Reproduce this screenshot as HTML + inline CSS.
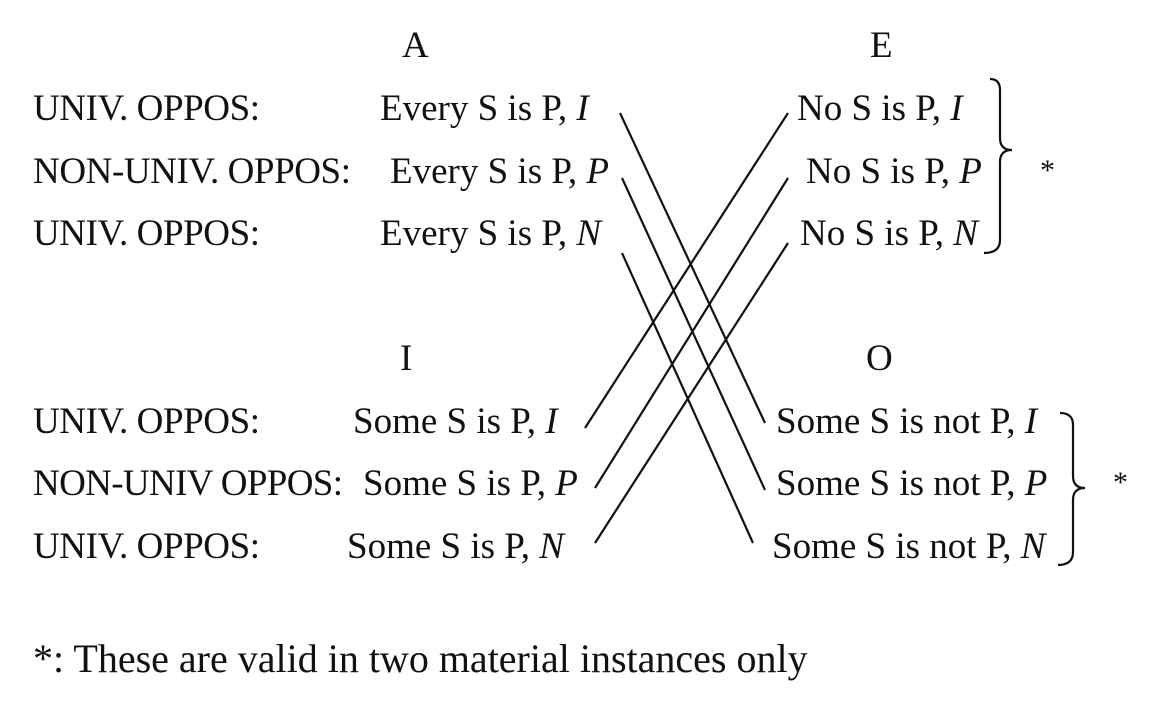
<!DOCTYPE html>
<html><head><style>
html,body{margin:0;padding:0;background:#fff;}
svg{display:block;}
text{font-family:"Liberation Serif",serif;font-size:37px;fill:#111;}
tspan.i{font-style:italic;}
</style></head><body>
<svg width="1156" height="719" viewBox="0 0 1156 719">
<text x="402" y="57">A</text>
<text x="870" y="57">E</text>
<text x="33" y="120" textLength="227">UNIV. OPPOS:</text>
<text x="33" y="183" textLength="318">NON-UNIV. OPPOS:</text>
<text x="33" y="245" textLength="227">UNIV. OPPOS:</text>
<text x="380" y="120">Every S is P, <tspan class="i">I</tspan></text>
<text x="390" y="183">Every S is P, <tspan class="i">P</tspan></text>
<text x="380" y="245">Every S is P, <tspan class="i">N</tspan></text>
<text x="797" y="120">No S is P, <tspan class="i">I</tspan></text>
<text x="806" y="183">No S is P, <tspan class="i">P</tspan></text>
<text x="800" y="245">No S is P, <tspan class="i">N</tspan></text>
<text x="400" y="370">I</text>
<text x="866" y="370">O</text>
<text x="33" y="433" textLength="227">UNIV. OPPOS:</text>
<text x="33" y="495" textLength="310">NON-UNIV OPPOS:</text>
<text x="33" y="558" textLength="227">UNIV. OPPOS:</text>
<text x="353" y="433">Some S is P, <tspan class="i">I</tspan></text>
<text x="363" y="495">Some S is P, <tspan class="i">P</tspan></text>
<text x="347" y="558">Some S is P, <tspan class="i">N</tspan></text>
<text x="776" y="433">Some S is not P, <tspan class="i">I</tspan></text>
<text x="776" y="495">Some S is not P, <tspan class="i">P</tspan></text>
<text x="772" y="558">Some S is not P, <tspan class="i">N</tspan></text>
<text x="1040" y="180" style="font-size:30px">*</text>
<text x="1113" y="492" style="font-size:30px">*</text>
<text x="33" y="672" style="font-size:40px">*: These are valid in two material instances only</text>
<g stroke="#111" stroke-width="2.2" fill="none">
<line x1="620" y1="113" x2="765" y2="423"/>
<line x1="622" y1="178" x2="765" y2="490"/>
<line x1="622" y1="253" x2="753" y2="543"/>
<line x1="788" y1="113" x2="585" y2="428"/>
<line x1="788" y1="178" x2="595" y2="488"/>
<line x1="788" y1="243" x2="595" y2="543"/>
<path d="M990 79 Q1000 79 1000 90 L1000 138 Q1000 150 1012 150 Q1000 150 1000 162 L1000 240 Q1000 253 984 253"/>
<path d="M1060 413 Q1073 413 1073 425 L1073 476 Q1073 488 1085 488 Q1073 488 1073 500 L1073 552 Q1073 565 1058 565"/>
</g>
</svg>
</body></html>
